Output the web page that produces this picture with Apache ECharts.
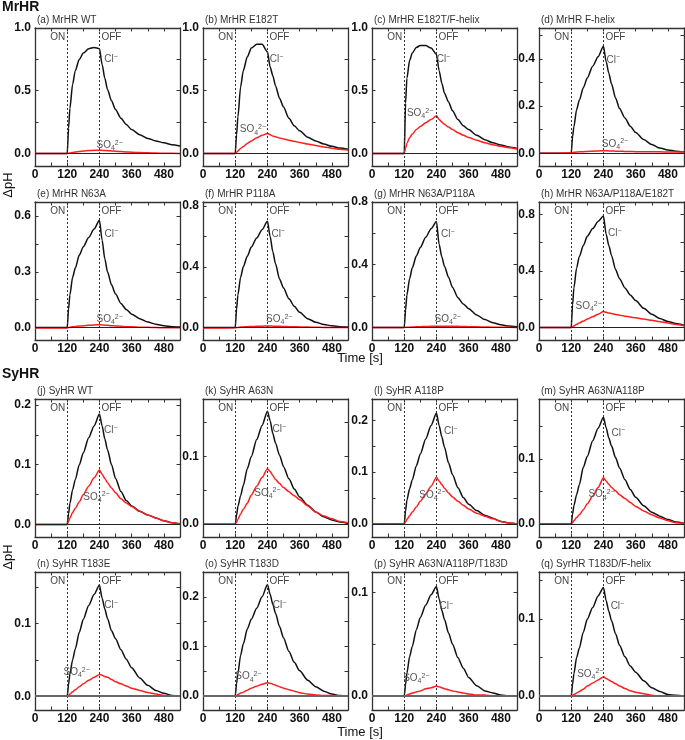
<!DOCTYPE html>
<html>
<head>
<meta charset="utf-8">
<script src="https://cdn.jsdelivr.net/npm/echarts@6/dist/echarts.min.js"></script>
<style>
html,body{margin:0;padding:0;background:#fff;}
#chart{width:685px;height:740px;}
</style>
</head>
<body>
<div id="chart"></div>
<script>
// ---- data ----
const T = [0, 60, 115, 120, 125, 130, 140, 150, 165, 180, 200, 220, 240, 250, 260, 270, 285, 300, 320, 340, 360, 390, 420, 450, 480, 510, 540];

const panelTitles = [
  '(a) MrHR WT', '(b) MrHR E182T', '(c) MrHR E182T/F-helix', '(d) MrHR F-helix',
  '(e) MrHR N63A', '(f) MrHR P118A', '(g) MrHR N63A/P118A', '(h) MrHR N63A/P118A/E182T',
  '(j) SyHR WT', '(k) SyHR A63N', '(l) SyHR A118P', '(m) SyHR A63N/A118P',
  '(n) SyHR T183E', '(o) SyHR T183D', '(p) SyHR A63N/A118P/T183D', '(q) SyrHR T183D/F-helix'
];

const clA = [0,0,0,0, 0.2,0.36,0.55,0.66,0.75,0.8,0.835,0.845,0.835, 0.71,0.6,0.51,0.42,0.35,0.28,0.23,0.19,0.15,0.12,0.1,0.085,0.07,0.06];
const soA = [0,0,0,0, 0.002,0.004,0.008,0.012,0.016,0.02,0.023,0.025,0.026, 0.025,0.024,0.022,0.02,0.018,0.015,0.012,0.01,0.007,0.005,0.003,0.002,0.001,0];
const clB = [0,0,0,0, 0.15,0.29,0.53,0.66,0.77,0.84,0.87,0.87,0.81, 0.69,0.62,0.54,0.44,0.37,0.28,0.22,0.18,0.13,0.1,0.075,0.057,0.043,0.033];
const soB = [0,0,0,0, 0.01,0.02,0.04,0.055,0.08,0.1,0.125,0.145,0.16, 0.15,0.14,0.133,0.124,0.116,0.106,0.097,0.088,0.075,0.063,0.052,0.042,0.034,0.027];
const clC = [0,0,0,0, 0.4,0.6,0.74,0.8,0.845,0.86,0.86,0.84,0.79, 0.66,0.56,0.48,0.41,0.34,0.27,0.22,0.19,0.145,0.11,0.085,0.067,0.052,0.04];
const soC = [0,0,0,0, 0.04,0.08,0.125,0.155,0.19,0.215,0.245,0.27,0.3, 0.27,0.25,0.232,0.21,0.19,0.165,0.145,0.127,0.105,0.086,0.07,0.057,0.045,0.035];
const clD = [0,0,0,0, 0.07,0.113,0.185,0.225,0.278,0.32,0.37,0.41,0.455, 0.39,0.34,0.295,0.235,0.19,0.15,0.115,0.088,0.058,0.037,0.022,0.014,0.009,0.006];
const soD = [0,0,0.002,0.002, 0.003,0.004,0.005,0.006,0.007,0.008,0.009,0.01,0.011, 0.011,0.01,0.01,0.009,0.009,0.008,0.008,0.007,0.007,0.006,0.006,0.005,0.005,0.005];
const clE = [0,0,0,0, 0.1,0.176,0.27,0.32,0.39,0.435,0.485,0.53,0.578, 0.47,0.37,0.3,0.23,0.18,0.13,0.097,0.072,0.048,0.03,0.018,0.01,0.005,0.003];
const soE = [-0.003,-0.003,-0.002,-0.002, 0,0.002,0.004,0.006,0.008,0.01,0.012,0.014,0.015, 0.014,0.013,0.012,0.01,0.009,0.007,0.005,0.004,0.002,0.001,0,-0.001,-0.001,-0.001];
const clF = [0,0,0,0, 0.12,0.215,0.33,0.4,0.47,0.53,0.59,0.645,0.7, 0.6,0.5,0.42,0.32,0.26,0.19,0.14,0.1,0.058,0.035,0.02,0.012,0.006,0.004];
const soF = [-0.003,-0.003,-0.002,-0.002, 0,0.001,0.003,0.004,0.006,0.007,0.008,0.009,0.01, 0.01,0.009,0.009,0.008,0.007,0.006,0.005,0.004,0.003,0.002,0.001,0,0,0];
const clG = [0,0,0,0, 0.11,0.207,0.31,0.38,0.455,0.51,0.575,0.63,0.676, 0.53,0.45,0.39,0.32,0.255,0.19,0.15,0.12,0.08,0.05,0.03,0.017,0.009,0.004];
const soG = [0,0,0,0, 0.001,0.001,0.002,0.003,0.004,0.005,0.006,0.007,0.008, 0.008,0.008,0.008,0.008,0.007,0.007,0.006,0.005,0.004,0.003,0.002,0.001,0.001,0];
const clH = [0,0,0,0, 0.16,0.28,0.42,0.5,0.58,0.645,0.7,0.75,0.788, 0.66,0.58,0.51,0.41,0.345,0.28,0.23,0.19,0.135,0.093,0.063,0.042,0.027,0.016];
const soH = [0,0,0,0, 0.006,0.012,0.022,0.032,0.045,0.06,0.076,0.093,0.112, 0.107,0.102,0.098,0.092,0.087,0.08,0.074,0.068,0.059,0.05,0.041,0.031,0.021,0.012];
const clJ = [0,0,0,0, 0.018,0.035,0.058,0.075,0.1,0.12,0.145,0.165,0.185, 0.165,0.143,0.125,0.1,0.077,0.055,0.04,0.031,0.022,0.016,0.011,0.006,0.003,0.001];
const soJ = [0,0,0,0, 0.005,0.011,0.02,0.027,0.038,0.05,0.064,0.078,0.091, 0.084,0.077,0.07,0.061,0.053,0.043,0.036,0.03,0.022,0.016,0.011,0.006,0.003,0.001];
const clK = [0,0,0,0, 0.013,0.026,0.042,0.057,0.082,0.1,0.125,0.146,0.167, 0.153,0.134,0.12,0.102,0.085,0.067,0.052,0.04,0.028,0.018,0.011,0.006,0.003,0.001];
const soK = [0,0,0,0, 0.003,0.007,0.015,0.022,0.031,0.043,0.056,0.069,0.082, 0.078,0.072,0.066,0.06,0.054,0.048,0.042,0.036,0.027,0.018,0.012,0.008,0.004,0.002];
const clL = [0,0,0,0, 0.025,0.046,0.068,0.085,0.112,0.135,0.164,0.19,0.214, 0.19,0.168,0.148,0.118,0.095,0.07,0.051,0.038,0.026,0.017,0.011,0.005,0.002,0];
const soL = [0,0,0,0, 0.004,0.009,0.016,0.023,0.033,0.044,0.058,0.073,0.09, 0.083,0.076,0.069,0.06,0.052,0.044,0.036,0.029,0.021,0.015,0.01,0.005,0.002,0];
const clM = [0,0,0,0, 0.015,0.028,0.045,0.06,0.087,0.104,0.128,0.147,0.164, 0.148,0.132,0.12,0.102,0.086,0.068,0.053,0.041,0.028,0.018,0.012,0.007,0.003,0.001];
const soM = [0,0,0,0, 0.002,0.005,0.01,0.014,0.022,0.031,0.043,0.056,0.071, 0.066,0.061,0.056,0.051,0.045,0.039,0.033,0.027,0.02,0.014,0.009,0.005,0.002,0.001];
const clN = [0,0,0,0, 0.016,0.031,0.05,0.065,0.088,0.106,0.125,0.14,0.153, 0.135,0.12,0.107,0.09,0.079,0.064,0.051,0.039,0.025,0.015,0.008,0.004,0.001,0];
const soN = [0,0,0,0, 0.001,0.003,0.006,0.009,0.013,0.017,0.022,0.026,0.03, 0.029,0.027,0.026,0.023,0.02,0.017,0.014,0.011,0.008,0.005,0.003,0.001,0,0];
const clO = [0,0,0,0, 0.025,0.046,0.082,0.105,0.135,0.155,0.177,0.2,0.225, 0.205,0.185,0.167,0.14,0.117,0.09,0.068,0.051,0.032,0.019,0.01,0.004,0.001,0];
const soO = [0,0,0,0, 0.001,0.003,0.006,0.008,0.012,0.016,0.02,0.024,0.027, 0.026,0.024,0.022,0.019,0.016,0.013,0.01,0.007,0.004,0.002,0.001,0.001,0,0];
const clP = [0,0,0,0, 0.011,0.022,0.038,0.048,0.064,0.076,0.088,0.098,0.106, 0.094,0.083,0.074,0.061,0.05,0.037,0.027,0.018,0.01,0.005,0.003,0.001,0,0];
const soP = [0,0,0,0, 0,0.001,0.002,0.003,0.004,0.005,0.007,0.008,0.0096, 0.009,0.008,0.007,0.006,0.005,0.004,0.003,0.002,0.001,0.001,0,0,0,0];
const clQ = [0,0,0,0, 0.015,0.029,0.05,0.062,0.083,0.1,0.115,0.13,0.141, 0.124,0.11,0.098,0.081,0.066,0.051,0.039,0.031,0.02,0.011,0.006,0.002,0.001,0];
const soQ = [0,0,0,0, 0.001,0.002,0.004,0.006,0.009,0.013,0.017,0.021,0.025, 0.023,0.021,0.019,0.016,0.013,0.01,0.007,0.005,0.003,0.001,0,0,0,0];

const clSeries = [clA, clB, clC, clD, clE, clF, clG, clH, clJ, clK, clL, clM, clN, clO, clP, clQ];
const soSeries = [soA, soB, soC, soD, soE, soF, soG, soH, soJ, soK, soL, soM, soN, soO, soP, soQ];

// axis ranges and ticks
const yMins = [-0.1, -0.1, -0.1, -0.054, -0.067, -0.082, -0.08, -0.089, -0.021, -0.019, -0.025, -0.02, -0.019, -0.028, -0.0135, -0.018];
const yMaxs = [1.0, 1.0, 1.0, 0.532, 0.676, 0.827, 0.8, 0.888, 0.21, 0.185, 0.241, 0.192, 0.171, 0.25, 0.12, 0.161];
const yTicks = [
  [0,0.25,0.5,0.75,1.0], [0,0.25,0.5,0.75,1.0], [0,0.25,0.5,0.75,1.0], [0,0.1,0.2,0.3,0.4,0.5],
  [0,0.15,0.3,0.45,0.6], [0,0.2,0.4,0.6,0.8], [0,0.2,0.4,0.6,0.8], [0,0.2,0.4,0.6,0.8],
  [0,0.05,0.1,0.15,0.2], [0,0.05,0.1,0.15], [0,0.05,0.1,0.15,0.2], [0,0.05,0.1,0.15],
  [0,0.05,0.1,0.15], [0,0.05,0.1,0.15,0.2], [0,0.05,0.1], [0,0.05,0.1,0.15]
];
const yLabels = [
  [0,0.5,1.0], [0,0.5,1.0], [0,0.5,1.0], [0,0.2,0.4],
  [0,0.3,0.6], [0,0.4,0.8], [0,0.4,0.8], [0,0.4,0.8],
  [0,0.1,0.2], [0,0.1], [0,0.1,0.2], [0,0.1],
  [0,0.1], [0,0.1,0.2], [0,0.1], [0,0.1]
];
const xTicks = [0,60,120,180,240,300,360,420,480,540];
const xLabels = [0,120,240,360,480];
const lightOn = 120, lightOff = 240;

// annotation anchor points (data coords)
const clLabelAt = [[283,0.75],[274,0.75],[266,0.75],[277,0.397],[284,0.504],[280,0.616],[282,0.595],[282,0.666],
  [282,0.158],[284,0.14],[293,0.179],[295,0.14],[283,0.125],[285,0.183],[277,0.087],[292,0.116]];
const soLabelAt = [[278,0.065],[186,0.19],[179,0.32],[283,0.04],[278,0.045],[284,0.055],[282,0.053],[185,0.148],
  [229,0.046],[240,0.046],[225,0.056],[233,0.045],[155,0.033],[169,0.039],[165,0.017],[191,0.029]];

// ---- layout ----
const colLeft = [35, 203, 372, 539];
const rowTop = [28, 202, 399, 572];
const gw = 145, gh = 138;

const FONT = '"Liberation Sans", Arial, sans-serif';
const axisColor = '#333';

const grids = [], xAxes = [], yAxes = [], series = [], graphics = [];

for (let i = 0; i < 16; i++) {
  const r = Math.floor(i / 4), c = i % 4;
  grids.push({left: colLeft[c], top: rowTop[r], width: gw, height: gh, show: false});
  const tickCommon = {inside: true, length: 3.5, lineStyle: {color: axisColor, width: 1}};
  xAxes.push({
    type: 'value', gridIndex: i, min: 0, max: 540, position: 'bottom',
    axisLine: {show: true, onZero: false, lineStyle: {color: axisColor, width: 1.3}},
    axisTick: Object.assign({customValues: xTicks}, tickCommon),
    axisLabel: {customValues: xLabels, color: '#111', fontWeight: 'bold', fontSize: 12, fontFamily: FONT, margin: 3},
    splitLine: {show: false}
  });
  xAxes.push({
    type: 'value', gridIndex: i, min: 0, max: 540, position: 'top',
    axisLine: {show: true, onZero: false, lineStyle: {color: axisColor, width: 1.3}},
    axisTick: Object.assign({customValues: xTicks}, tickCommon),
    axisLabel: {show: false}, splitLine: {show: false}
  });
  yAxes.push({
    type: 'value', gridIndex: i, min: yMins[i], max: yMaxs[i], position: 'left',
    axisLine: {show: true, onZero: false, lineStyle: {color: axisColor, width: 1.3}},
    axisTick: Object.assign({customValues: yTicks[i]}, tickCommon),
    axisLabel: {customValues: yLabels[i], formatter: v => Number(v).toFixed(1), color: '#111', fontWeight: 'bold', fontSize: 12, fontFamily: FONT, margin: 4},
    splitLine: {show: false}
  });
  yAxes.push({
    type: 'value', gridIndex: i, min: yMins[i], max: yMaxs[i], position: 'right',
    axisLine: {show: true, onZero: false, lineStyle: {color: axisColor, width: 1.3}},
    axisTick: Object.assign({customValues: yTicks[i]}, tickCommon),
    axisLabel: {show: false}, splitLine: {show: false}
  });

  const yTop = yMaxs[i] - 0.065 * (yMaxs[i] - yMins[i]);
  const lastRow = r === 3;
  const lbl = {fontSize: 10, color: '#555', fontFamily: FONT};
  series.push({
    type: 'line', xAxisIndex: 2 * i, yAxisIndex: 2 * i,
    data: T.map((t, k) => [t, clSeries[i][k]]),
    showSymbol: false, symbol: 'none', smooth: 0.25, smoothMonotone: 'x',
    lineStyle: {color: '#111', width: 1.5}, z: 3, animation: false,
    markLine: {
      silent: true, symbol: 'none', animation: false, label: {show: false},
      data: [
        {xAxis: lightOn, lineStyle: {type: [2, 2], color: '#333', width: 1}},
        {xAxis: lightOff, lineStyle: {type: [2, 2], color: '#333', width: 1}},
        {yAxis: 0, lineStyle: {type: 'solid', color: lastRow ? '#666' : '#222', width: lastRow ? 1.8 : 1.1}}
      ]
    },
    markPoint: {
      silent: true, animation: false, symbol: 'circle', symbolSize: 0,
      data: [
        {coord: [lightOn, yTop], label: Object.assign({show: true, position: 'left', distance: 2, formatter: 'ON'}, lbl, {color: '#444'})},
        {coord: [lightOff, yTop], label: Object.assign({show: true, position: 'right', distance: 2, formatter: 'OFF'}, lbl, {color: '#444'})},
        {coord: clLabelAt[i], label: {show: true, position: 'inside', formatter: '{b|Cl}{p|−}', rich: {
          b: Object.assign({lineHeight: 12}, lbl),
          p: {fontSize: 7, color: '#555', fontFamily: FONT, lineHeight: 12, padding: [0, 0, 5, 0]}
        }}},
        {coord: soLabelAt[i], label: {show: true, position: 'inside', formatter: '{b|SO}{s|4}{p|2−}', rich: {
          b: Object.assign({lineHeight: 12}, lbl),
          s: {fontSize: 7, color: '#555', fontFamily: FONT, lineHeight: 12, padding: [6, 0, 0, 0]},
          p: {fontSize: 7, color: '#555', fontFamily: FONT, lineHeight: 12, padding: [0, 0, 5, 0]}
        }}}
      ]
    }
  });
  series.push({
    type: 'line', xAxisIndex: 2 * i, yAxisIndex: 2 * i,
    data: T.map((t, k) => [t, soSeries[i][k]]),
    showSymbol: false, symbol: 'none', smooth: 0.25, smoothMonotone: 'x',
    lineStyle: {color: '#ff1e1e', width: 1.5}, z: 4, animation: false
  });

  graphics.push({
    type: 'text', left: colLeft[c] + 2, top: rowTop[r] - 13,
    style: {text: panelTitles[i], fontSize: 10, fill: '#333', fontFamily: FONT}
  });
}

graphics.push(
  {type: 'text', left: 2, top: 0, style: {text: 'MrHR', fontSize: 14, fontWeight: 'bold', fill: '#111', fontFamily: FONT}},
  {type: 'text', left: 2, top: 367, style: {text: 'SyHR', fontSize: 14, fontWeight: 'bold', fill: '#111', fontFamily: FONT}},
  {type: 'text', x: 360, y: 358, style: {text: 'Time [s]', fontSize: 13, fill: '#111', fontFamily: FONT, align: 'center', verticalAlign: 'middle'}},
  {type: 'text', x: 360, y: 732, style: {text: 'Time [s]', fontSize: 13, fill: '#111', fontFamily: FONT, align: 'center', verticalAlign: 'middle'}},
  {type: 'text', x: 8, y: 185, rotation: Math.PI / 2, style: {text: 'ΔpH', fontSize: 13, fill: '#111', fontFamily: FONT, align: 'center', verticalAlign: 'middle'}},
  {type: 'text', x: 8, y: 557, rotation: Math.PI / 2, style: {text: 'ΔpH', fontSize: 13, fill: '#111', fontFamily: FONT, align: 'center', verticalAlign: 'middle'}}
);

const chart = echarts.init(document.getElementById('chart'), null, {renderer: 'canvas'});
chart.setOption({
  animation: false,
  backgroundColor: '#fff',
  grid: grids, xAxis: xAxes, yAxis: yAxes, series: series, graphic: graphics
});
</script>
</body>
</html>
